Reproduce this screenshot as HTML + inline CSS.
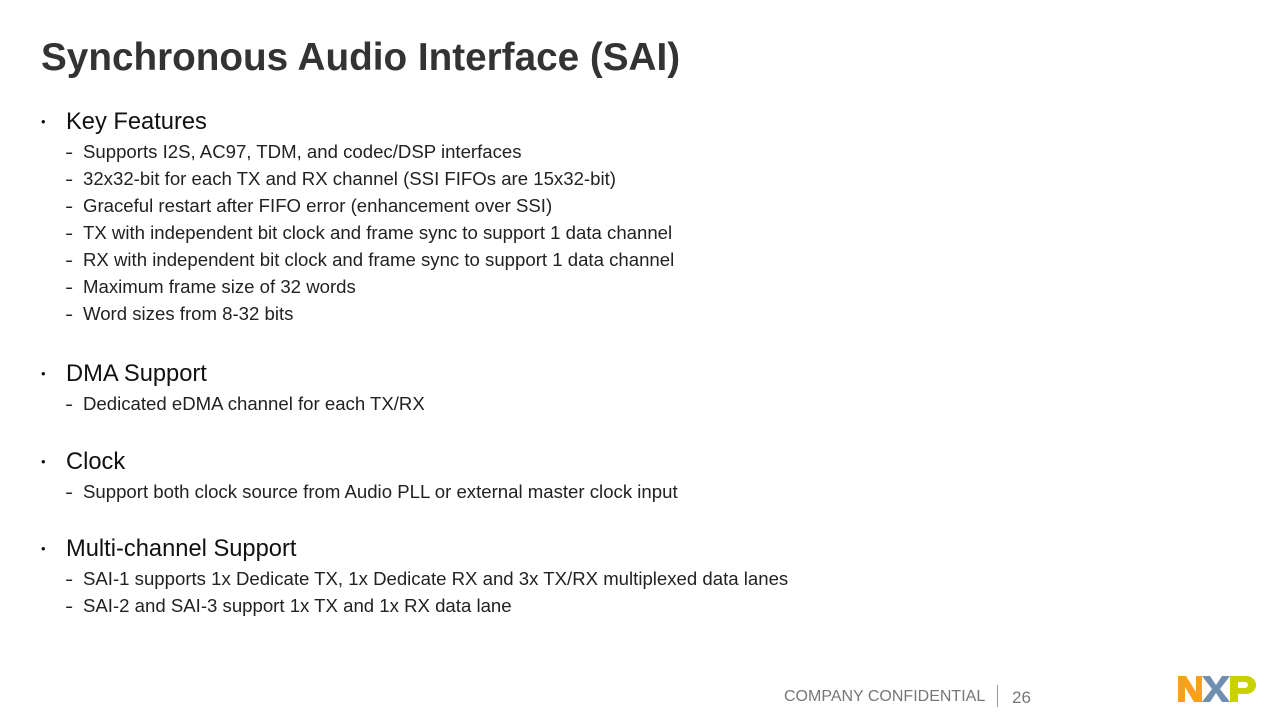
<!DOCTYPE html>
<html><head><style>
body{margin:0;width:1280px;height:720px;background:#fff;position:relative;overflow:hidden;font-family:"Liberation Sans",sans-serif;color:#222}
.t{position:absolute;left:41px;top:36px;font-size:38.7px;font-weight:bold;color:#333;white-space:nowrap}
.a{position:absolute;left:66px;font-size:23.7px;line-height:26px;white-space:nowrap;color:#111}
.a:before{content:"•";position:absolute;left:-25px;font-size:13px}
.b{position:absolute;left:83px;font-size:18.6px;line-height:20px;white-space:nowrap;color:#222}
.b:before{content:"-";position:absolute;left:-17px;transform:scaleX(1.3)}
.f{position:absolute;top:688px;font-size:16px;color:#777}
</style></head><body>
<div class="t">Synchronous Audio Interface (SAI)</div>
<div class="a" style="top:109px">Key Features</div>
<div class="b" style="top:142px">Supports I2S, AC97, TDM, and codec/DSP interfaces</div>
<div class="b" style="top:169px">32x32-bit for each TX and RX channel (SSI FIFOs are 15x32-bit)</div>
<div class="b" style="top:196px">Graceful restart after FIFO error (enhancement over SSI)</div>
<div class="b" style="top:223px">TX with independent bit clock and frame sync to support 1 data channel</div>
<div class="b" style="top:250px">RX with independent bit clock and frame sync to support 1 data channel</div>
<div class="b" style="top:277px">Maximum frame size of 32 words</div>
<div class="b" style="top:304px">Word sizes from 8-32 bits</div>
<div class="a" style="top:361px">DMA Support</div>
<div class="b" style="top:394px">Dedicated eDMA channel for each TX/RX</div>
<div class="a" style="top:449px">Clock</div>
<div class="b" style="top:482px">Support both clock source from Audio PLL or external master clock input</div>
<div class="a" style="top:536px">Multi-channel Support</div>
<div class="b" style="top:569px">SAI-1 supports 1x Dedicate TX, 1x Dedicate RX and 3x TX/RX multiplexed data lanes</div>
<div class="b" style="top:596px">SAI-2 and SAI-3 support 1x TX and 1x RX data lane</div>
<div class="f" style="left:784px">COMPANY CONFIDENTIAL</div>
<div style="position:absolute;left:997px;top:685px;width:1px;height:22px;background:#999"></div>
<div class="f" style="left:1012px;font-size:17px">26</div>
<svg style="position:absolute;left:1178px;top:674px" width="80" height="30" viewBox="0 0 80 30">
<polygon points="0,2 8,2 18,18 18,2 24,2 24,28 16,28 7,13 7,28 0,28" fill="#f9a11b"/>
<polygon points="24,2 32,2 38,11 44,2 52,2 42,15 52,28 44,28 38,19 32,28 24,28 34,15" fill="#6f8fb0"/>
<path d="M52,2 H68 A9,8 0 0 1 68,20 H60 V28 H52 Z M60,8 V14 H67 A3,3 0 0 0 67,8 Z" fill="#c9d200" fill-rule="evenodd"/>
</svg>
</body></html>
